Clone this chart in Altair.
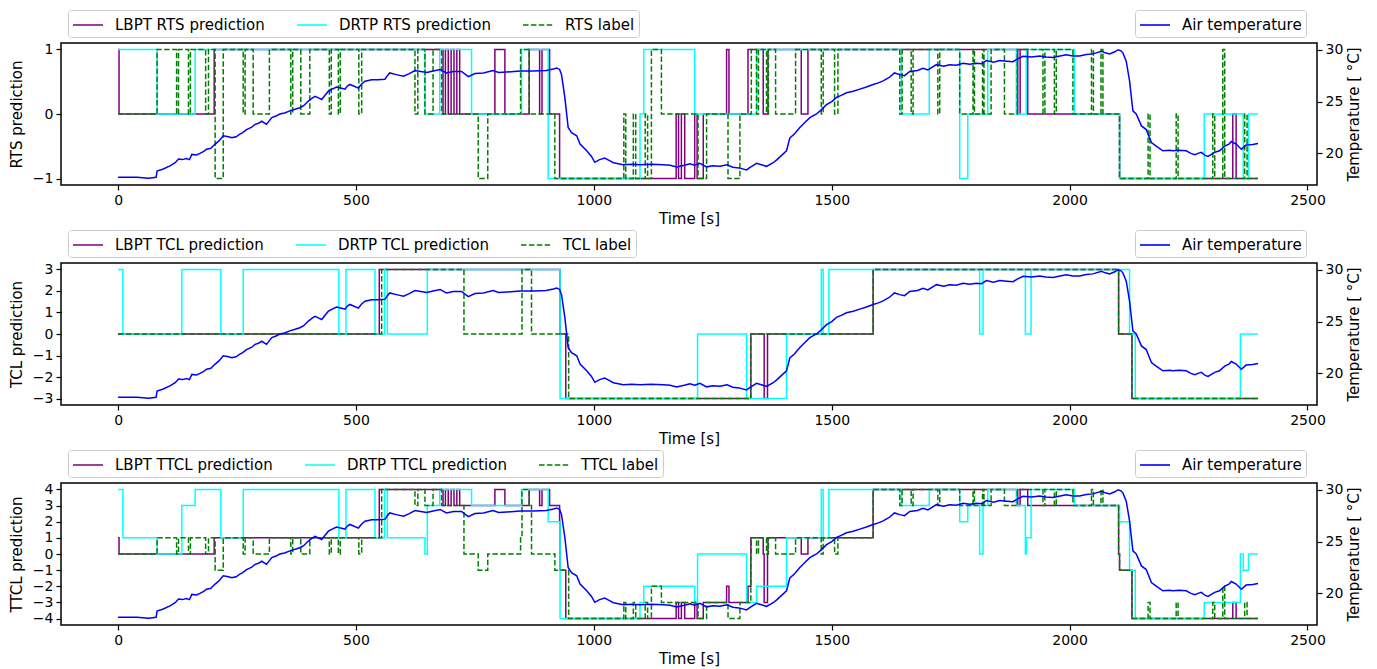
import altair as alt
import pandas as pd

# ---------------- data (time [s], value) ----------------
rts_lbpt = [(0,1),(2,0),(202,1),(683,0),(688,1),(694,0),(700,1),(706,0),(712,1),(718,0),(792,1),(813,0),
            (864,1),(886,0),(891,1),(907,0),(928,-1),(1173,0),(1178,-1),(1184,0),(1191,-1),(1212,0),(1217,-1),
            (1230,0),(1279,1),(1284,0),(1324,1),(1356,0),(1366,1),(1436,0),(1450,1),(1891,0),(1896,1),(1912,0),
            (2105,-1),(2343,0),(2350,-1),(2396,-1)]
rts_drtp = [(0,1),(82,0),(162,1),(645,0),(676,1),(743,0),(848,1),(904,-1),(1097,0),(1105,1),(1212,0),(1342,1),
            (1646,0),(1705,1),(1769,-1),(1786,0),(1828,1),(1888,0),(1909,1),(2010,0),(2105,-1),(2283,0),(2365,-1),
            (2376,0),(2396,0)]
rts_label = [(0,0),(82,1),(123,0),(127,1),(148,0),(152,1),(184,0),(190,1),(204,-1),(221,1),(263,0),(267,1),(284,0),
             (318,1),(363,0),(367,1),(384,0),(403,1),(444,0),(448,1),(463,0),(467,1),(506,0),(512,1),(624,0),(630,1),
             (645,0),(662,1),(680,0),(757,-1),(777,0),(846,1),(864,0),(918,-1),(1063,0),(1067,-1),(1083,0),(1088,-1),
             (1108,0),(1113,-1),(1121,1),(1142,0),(1219,-1),(1237,0),(1282,-1),(1307,0),(1331,1),(1342,0),(1346,1),
             (1363,0),(1367,1),(1382,0),(1424,1),(1478,0),(1482,1),(1506,0),(1513,1),(1643,0),(1648,1),(1667,0),
             (1671,1),(1723,0),(1727,1),(1769,0),(1797,1),(1800,0),(1817,1),(1820,0),(1835,1),(1863,0),(1890,1),
             (1944,0),(1948,1),(1968,0),(1972,1),(2007,0),(2046,1),(2050,0),(2066,1),(2070,0),(2105,-1),(2165,0),
             (2169,-1),(2224,0),(2228,-1),(2301,0),(2305,-1),(2322,1),(2326,-1),(2368,0),(2373,-1),(2396,-1)]

tcl_lbpt = [(0,0),(549,3),(929,0),(941,-3),(1330,0),(1358,-3),(1365,0),(1587,3),(2103,0),(2131,-3),(2396,-3)]
tcl_drtp = [(0,3),(10,0),(134,3),(216,0),(263,3),(464,0),(479,3),(540,0),(560,3),(566,0),(650,3),(929,-3),
            (1218,0),(1321,-3),(1405,0),(1478,3),(1482,0),(1494,3),(1811,0),(1818,3),(1907,0),(1919,3),(2126,0),
            (2138,-3),(2359,0),(2396,0)]
tcl_label = [(0,0),(554,3),(727,0),(849,3),(869,0),(947,-3),(1330,0),(1587,3),(2103,0),(2131,-3),(2396,-3)]

ttcl_lbpt = [(0,1),(2,0),(202,1),(549,4),(683,3),(688,4),(694,3),(700,4),(706,3),(712,4),(718,3),(792,4),(813,3),
             (864,4),(886,3),(891,4),(907,3),(928,2),(929,-1),(941,-4),(1173,-3),(1178,-4),(1184,-3),(1191,-4),
             (1212,-3),(1217,-4),(1230,-3),(1279,-2),(1284,-3),(1324,-2),(1330,1),(1356,0),(1358,-3),(1365,0),
             (1366,1),(1436,0),(1450,1),(1587,4),(1891,3),(1896,4),(1912,3),(2103,0),(2105,-1),(2131,-4),
             (2343,-3),(2350,-4),(2396,-4)]
ttcl_drtp = [(0,4),(10,1),(82,0),(134,3),(162,4),(216,1),(263,4),(464,1),(479,4),(540,1),(560,4),(566,1),(645,0),
             (650,3),(676,4),(743,3),(848,4),(904,2),(929,-4),(1097,-3),(1105,-2),(1212,-3),(1218,0),(1321,-3),
             (1342,-2),(1405,1),(1478,4),(1482,1),(1494,4),(1646,3),(1705,4),(1769,2),(1786,3),(1811,0),(1818,3),
             (1828,4),(1888,3),(1907,0),(1909,1),(1919,4),(2010,3),(2105,2),(2126,-1),(2138,-4),(2283,-3),(2359,0),
             (2365,-1),(2376,0),(2396,0)]
ttcl_label = [(0,0),(82,1),(123,0),(127,1),(148,0),(152,1),(184,0),(190,1),(204,-1),(221,1),(263,0),(267,1),(284,0),
              (318,1),(363,0),(367,1),(384,0),(403,1),(444,0),(448,1),(463,0),(467,1),(506,0),(512,1),(554,4),(624,3),
              (630,4),(645,3),(662,4),(680,3),(727,0),(757,-1),(777,0),(846,1),(849,4),(864,3),(869,0),(918,-1),
              (947,-4),(1063,-3),(1067,-4),(1083,-3),(1088,-4),(1108,-3),(1113,-4),(1121,-2),(1142,-3),(1219,-4),
              (1237,-3),(1282,-4),(1307,-3),(1330,0),(1331,1),(1342,0),(1346,1),(1363,0),(1367,1),(1382,0),(1424,1),
              (1478,0),(1482,1),(1506,0),(1513,1),(1587,4),(1643,3),(1648,4),(1667,3),(1671,4),(1723,3),(1727,4),
              (1769,3),(1797,4),(1800,3),(1817,4),(1820,3),(1835,4),(1863,3),(1890,4),(1944,3),(1948,4),(1968,3),
              (1972,4),(2007,3),(2046,4),(2050,3),(2066,4),(2070,3),(2103,0),(2105,-1),(2131,-4),(2165,-3),(2169,-4),
              (2224,-3),(2228,-4),(2301,-3),(2305,-4),(2322,-2),(2326,-4),(2368,-3),(2373,-4),(2396,-4)]

air_temp = [(0,17.7),(40,17.7),(64,17.6),(80,17.7),(82,18.3),(95,18.5),(109,18.8),(120,19.1),(127,19.45),(135,19.4),
            (144,19.5),(150,19.4),(155,19.9),(165,19.85),(172,20.0),(180,20.2),(186,20.4),(195,20.5),(204,20.9),
            (212,21.2),(221,21.7),(232,21.6),(239,21.5),(248,21.6),(256,21.85),(262,22.0),(270,22.3),(280,22.5),
            (288,22.8),(295,22.9),(302,23.1),(312,22.8),(323,23.45),(332,23.6),(340,23.8),(350,23.9),(361,24.1),
            (372,24.25),(382,24.4),(390,24.6),(400,25.05),(407,25.3),(414,25.5),(421,25.35),(428,25.2),(435,25.6),
            (442,26.0),(450,26.2),(459,26.4),(468,26.3),(477,26.2),(482,26.5),(487,26.65),(495,26.5),(505,26.3),
            (512,26.7),(519,26.96),(533,27.1),(545,27.1),(561,27.15),(566,27.5),(571,27.76),(585,27.6),(600,27.44),
            (612,27.7),(624,28.0),(636,27.9),(649,27.8),(662,27.95),(677,28.1),(690,27.76),(705,27.9),(722,27.9),
            (736,27.4),(750,27.7),(768,27.76),(788,28.0),(800,27.8),(817,27.85),(845,27.95),(873,27.95),(900,28.0),
            (915,28.15),(922,28.24),(928,28.1),(932,27.6),(939,25.4),(946,22.5),(953,22.0),(964,21.7),(971,20.9),
            (985,20.25),(995,19.7),(1002,19.14),(1012,19.4),(1023,19.55),(1033,19.3),(1041,19.1),(1062,18.9),
            (1080,18.95),(1097,18.9),(1120,18.95),(1146,18.9),(1160,18.85),(1174,18.7),(1190,18.85),(1202,19.0),
            (1212,18.85),(1223,19.05),(1237,18.7),(1250,18.8),(1265,18.75),(1280,18.9),(1292,18.66),(1305,18.6),
            (1321,18.4),(1330,18.7),(1342,19.04),(1352,18.9),(1363,18.75),(1377,19.1),(1385,19.4),(1394,19.78),
            (1405,20.25),(1412,21.5),(1422,21.9),(1433,22.5),(1444,23.0),(1454,23.45),(1468,23.8),(1478,24.2),
            (1489,24.7),(1500,25.0),(1510,25.4),(1520,25.6),(1531,25.85),(1545,26.0),(1559,26.2),(1573,26.4),
            (1587,26.65),(1598,26.8),(1608,27.0),(1620,27.3),(1632,27.76),(1643,27.6),(1653,27.5),(1664,27.9),
            (1680,28.0),(1692,28.2),(1702,28.05),(1720,28.56),(1735,28.4),(1748,28.56),(1762,28.5),(1776,28.7),
            (1790,28.6),(1804,28.7),(1815,28.65),(1825,28.95),(1840,28.8),(1853,28.95),(1868,28.9),(1881,28.85),
            (1890,29.1),(1902,29.36),(1920,29.3),(1937,29.4),(1950,29.3),(1965,29.25),(1980,29.4),(1993,29.52),
            (2007,29.4),(2021,29.4),(2035,29.55),(2049,29.6),(2067,29.84),(2075,29.7),(2084,29.6),(2095,29.8),
            (2102,30.0),(2108,29.9),(2112,29.7),(2119,28.9),(2126,27.0),(2133,24.1),(2140,23.8),(2151,22.65),
            (2161,22.3),(2172,21.05),(2182,20.7),(2196,20.25),(2210,20.3),(2217,20.25),(2230,20.3),(2245,20.25),
            (2255,20.0),(2263,19.87),(2270,20.0),(2277,20.1),(2285,19.8),(2291,19.7),(2298,19.9),(2305,20.1),
            (2315,20.25),(2326,20.7),(2335,20.9),(2340,21.15),(2350,20.9),(2361,20.4),(2371,20.8),(2385,20.85),
            (2396,20.95)]

x_ticks = [0, 500, 1000, 1500, 2000, 2500]
temp_ticks = [20, 25, 30]

# ---------------- styling ----------------
FONT = "DejaVu Sans"
FS = 15      # titles / legend
TFS = 14     # tick labels
W, H = 1256, 142
COLORS = ["#800080", "#00ffff", "#008000"]
DASHES = [[1, 0], [1, 0], [5.5, 2.4]]

temp_df = pd.DataFrame(air_temp, columns=["t", "temp"])
temp_df["k"] = "Air temperature"


def legend_box(x, y):
    return alt.Legend(title=None, orient="none", legendX=x, legendY=y, direction="horizontal",
                      symbolType="M-1.5,0L1.5,0", symbolSize=400, symbolStrokeWidth=1.6,
                      symbolOffset=5, labelOffset=16, columnPadding=28, padding=4,
                      labelFont=FONT, labelFontSize=FS, labelColor="black",
                      fillColor="white", strokeColor="#cccccc", cornerRadius=3, labelLimit=400)


def panel(tag, ydom, yvals, series):
    names = [f"LBPT {tag} prediction", f"DRTP {tag} prediction", f"{tag} label"]
    frames = []
    for n, pts in zip(names, series):
        d = pd.DataFrame(pts, columns=["t", "v"])
        d["s"] = n
        frames.append(d)
    df = pd.concat(frames, ignore_index=True)

    leg = legend_box(7, -33)
    x = alt.X("t:Q", scale=alt.Scale(domain=[-120, 2520], nice=False, zero=False),
              axis=alt.Axis(values=x_ticks, format="d", title="Time [s]", titlePadding=4))
    y = alt.Y("v:Q", scale=alt.Scale(domain=ydom, nice=False, zero=False),
              axis=alt.Axis(values=yvals, format="d", title=f"{tag} prediction", titlePadding=8))
    color = alt.Color("s:N", scale=alt.Scale(domain=names, range=COLORS), legend=leg)
    dash = alt.StrokeDash("s:N", scale=alt.Scale(domain=names, range=DASHES), legend=leg)

    layers = [
        alt.Chart(df).transform_filter(alt.datum.s == n)
        .mark_line(interpolate="step-after", strokeWidth=1.5)
        .encode(x=x, y=y, color=color, strokeDash=dash)
        for n in names
    ]
    temp = alt.Chart(temp_df).mark_line(strokeWidth=1.5).encode(
        x=x,
        y=alt.Y("temp:Q", scale=alt.Scale(domain=[16.95, 30.65], nice=False, zero=False),
                axis=alt.Axis(values=temp_ticks, format="d", orient="right", title="Temperature [ °C]",
                              titleAngle=270, titleBaseline="top", titlePadding=4)),
        color=alt.Color("k:N", scale=alt.Scale(domain=["Air temperature"], range=["#0000ff"]),
                        legend=legend_box(1074, -33)),
    )
    return (alt.layer(alt.layer(*layers), temp)
            .resolve_scale(y="independent", color="independent", strokeDash="independent")
            .properties(width=W, height=H))


p1 = panel("RTS", [-1.1, 1.1], [-1, 0, 1], [rts_lbpt, rts_drtp, rts_label])
p2 = panel("TCL", [-3.3, 3.3], [-3, -2, -1, 0, 1, 2, 3], [tcl_lbpt, tcl_drtp, tcl_label])
p3 = panel("TTCL", [-4.4, 4.4], [-4, -3, -2, -1, 0, 1, 2, 3, 4], [ttcl_lbpt, ttcl_drtp, ttcl_label])

chart = (
    alt.vconcat(p1, p2, p3, spacing=1)
    .resolve_scale(color="independent", strokeDash="independent")
    .resolve_legend(color="independent", strokeDash="independent")
    .properties(padding=0, background="white")
    .configure_view(stroke="black", strokeWidth=1.5)
    .configure_axis(labelFont=FONT, labelFontSize=TFS, titleFont=FONT, titleFontSize=FS,
                    titleFontWeight="normal", labelColor="black", titleColor="black",
                    tickColor="black", tickSize=5, tickWidth=1.2, domain=False, grid=False,
                    labelPadding=3)
)

chart.save("out.html", embed_options={"renderer": "svg", "actions": False})
